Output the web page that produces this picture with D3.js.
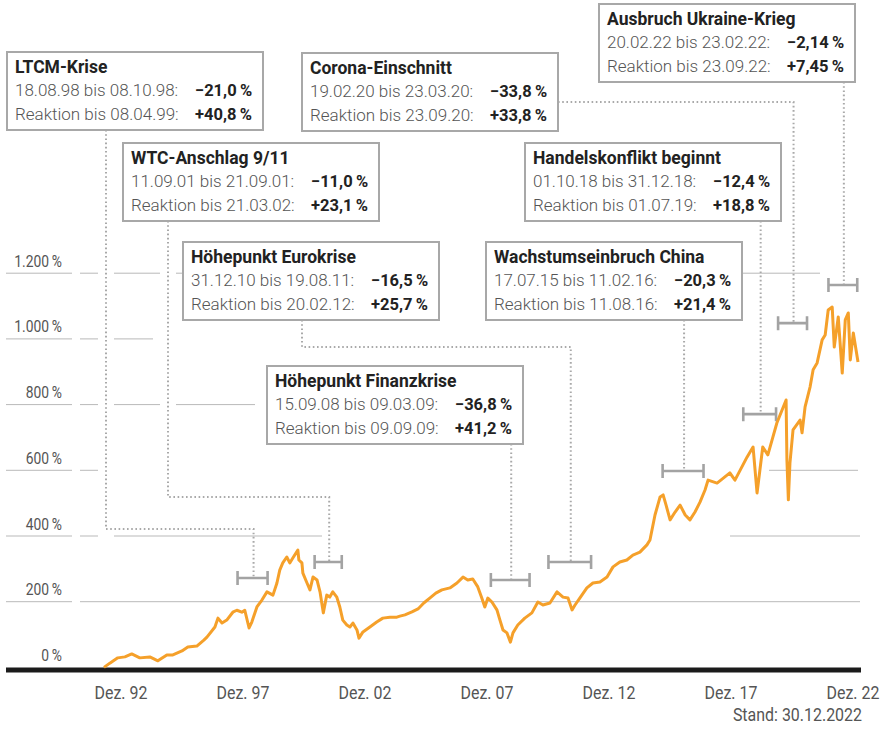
<!DOCTYPE html>
<html>
<head>
<meta charset="utf-8">
<script src="https://cdn.jsdelivr.net/npm/d3@7"></script>
<style>
  body { margin: 0; background: #fff; }
  svg { display: block; }
</style>
</head>
<body>
<div id="chart"></div>
<script>
// Kursverlauf (Veränderung in %, seit Ende 1992)
const seriesDates = [
  "1992-12-30","1993-03-25","1993-07-18","1993-10-30","1994-02-06","1994-06-03","1994-10-27",
  "1995-02-21","1995-07-01","1995-09-27","1996-02-06","1996-05-01","1996-09-09","1996-12-20",
  "1997-02-03","1997-05-30","1997-07-13","1997-09-10","1997-11-18","1998-02-14","1998-04-13",
  "1998-06-25","1998-08-07","1998-10-08","1998-11-17","1999-01-30","1999-04-13","1999-06-25",
  "1999-09-20","1999-11-17","1999-12-28","2000-02-10","2000-04-08","2000-05-22","2000-07-05",
  "2000-09-16","2000-10-01","2000-11-14","2000-11-28","2001-01-27","2001-03-11","2001-04-24",
  "2001-06-22","2001-08-04","2001-09-21","2001-11-10","2001-12-24","2002-02-06","2002-04-05",
  "2002-05-19","2002-07-01","2002-08-29","2002-10-12","2002-11-25","2003-01-23","2003-02-21",
  "2003-04-20","2003-07-30","2003-11-06","2004-02-03","2004-05-15","2004-08-25","2004-10-08",
  "2004-12-20","2005-04-01","2005-06-28","2005-09-20","2005-12-16","2006-03-14","2006-06-10",
  "2006-10-05","2007-01-15","2007-04-13","2007-06-21","2007-09-02","2007-11-14","2008-01-11",
  "2008-02-24","2008-04-08","2008-06-06","2008-08-18","2008-10-01","2008-11-14","2009-01-11",
  "2009-03-02","2009-04-08","2009-06-17","2009-09-27","2010-01-08","2010-04-05","2010-06-17",
  "2010-09-27","2011-01-08","2011-04-05","2011-06-17","2011-08-15","2011-09-27","2011-12-05",
  "2012-03-17","2012-06-13","2012-09-23","2013-01-04","2013-04-01","2013-07-09","2013-10-19",
  "2014-01-15","2014-04-27","2014-08-07","2014-09-20","2014-12-02","2015-02-14","2015-03-30",
  "2015-05-12","2015-07-09","2015-09-20","2015-12-02","2016-02-14","2016-04-23","2016-07-05",
  "2016-09-16","2016-11-28","2017-01-11","2017-05-22","2017-11-24","2018-02-06","2018-07-31",
  "2018-10-27","2018-12-24","2019-03-17","2019-05-30","2019-08-11","2019-10-08","2020-02-19",
  "2020-03-02","2020-03-23","2020-04-15","2020-05-30","2020-09-09","2020-10-08","2020-11-21",
  "2021-02-02","2021-03-18","2021-05-15","2021-07-27","2021-09-09","2021-10-23","2021-12-20",
  "2022-01-19","2022-03-18","2022-05-15","2022-06-28","2022-08-11","2022-09-09","2022-10-23",
  "2022-12-30"
];
const seriesValues = [
  0, 13, 29, 32, 41, 29, 32,
  20, 38, 38, 50, 62, 65, 83,
  92, 123, 150, 135, 144, 168, 174,
  168, 174, 120, 138, 184, 205, 230,
  220, 257, 296, 318, 336, 318, 333,
  357, 327, 318, 287, 257, 236, 275,
  266, 230, 166, 220, 214, 230, 214,
  184, 144, 129, 123, 135, 114, 89,
  108, 123, 138, 150, 153, 153, 156,
  160, 169, 178, 196, 211, 226, 236,
  242, 257, 275, 266, 269, 245, 211,
  184, 211, 199, 175, 144, 114, 105,
  77, 105, 129, 150, 166, 199, 190,
  196, 230, 214, 211, 175, 190, 211,
  242, 257, 260, 275, 306, 321, 327,
  342, 351, 373, 388, 464, 519, 525,
  494, 449, 473, 494, 464, 449, 473,
  503, 540, 570, 561, 592, 570, 640,
  671, 531, 671, 647, 701, 744, 814,
  632, 510, 622, 723, 753, 714, 793,
  854, 906, 927, 997, 1012, 1088, 1097,
  975, 1067, 896, 1058, 1079, 936, 1018,
  930
];

const yTicks = [0, 200, 400, 600, 800, 1000, 1200];
const xTickLabels = ["Dez. 92", "Dez. 97", "Dez. 02", "Dez. 07", "Dez. 12", "Dez. 17", "Dez. 22"];
const standLabel = "Stand: 30.12.2022";

// Krisen: Beginn, Tiefpunkt, Ende der Reaktion, Verlust, Erholung
const eventTitles = [
  "LTCM-Krise", "WTC-Anschlag 9/11", "Höhepunkt Eurokrise", "Höhepunkt Finanzkrise",
  "Wachstumseinbruch China", "Corona-Einschnitt", "Handelskonflikt beginnt", "Ausbruch Ukraine-Krieg"
];
const eventStart = ["1998-08-18", "2001-09-11", "2010-12-31", "2008-09-15", "2015-07-17", "2020-02-19", "2018-10-01", "2022-02-20"];
const eventLow = ["1998-10-08", "2001-09-21", "2011-08-19", "2009-03-09", "2016-02-11", "2020-03-23", "2018-12-31", "2022-02-23"];
const eventReaction = ["1999-04-08", "2002-03-21", "2012-02-20", "2009-09-09", "2016-08-11", "2020-09-23", "2019-07-01", "2022-09-23"];
const eventDrop = [-21.0, -11.0, -16.5, -36.8, -20.3, -33.8, -12.4, -2.14];
const eventGain = [40.8, 23.1, 25.7, 41.2, 21.4, 33.8, 18.8, 7.45];
const eventDigits = [1, 1, 1, 1, 1, 1, 1, 2];

// Platzierung der Kästen (Pixel) und Höhe der Klammern (in %)
const calloutLayout = [
  { box: [7, 52], from: "bottom", off: 99, elbow: 529, level: 272 },
  { box: [123, 143], from: "bottom", off: 45, elbow: 497, level: 321 },
  { box: [183, 242], from: "bottom", off: 119, elbow: 347, level: 321 },
  { box: [267, 366], from: "bottom", level: 266 },
  { box: [486, 242], from: "bottom", level: 598 },
  { box: [302, 53], from: "right", off: 49, level: 1048 },
  { box: [525, 143], from: "bottom", level: 771 },
  { box: [599, 4], from: "bottom", level: 1164 }
];

// sichtbare Stücke der Hilfslinien (Pixel)
const gridSegments = {
  0: [],
  200: [[6, 72], [80, 860]],
  400: [[6, 72], [80, 98], [114, 322], [730, 860]],
  600: [[6, 72], [80, 98], [769, 858]],
  800: [[6, 72], [80, 98], [114, 160], [176, 255]],
  1000: [[6, 72], [80, 98], [114, 153]],
  1200: [[6, 72], [80, 98], [114, 160], [176, 183], [742, 820]]
};

const width = 882, height = 731;
const boxW = 256, boxH = 78;
const parse = d3.timeParse("%Y-%m-%d");
const fmtDate = d3.timeFormat("%d.%m.%y");
const fmtPct = (v, dg) => (v < 0 ? "\u2212" : "+") + Math.abs(v).toFixed(dg).replace(".", ",") + "\u2009%";
const fmtTick = (v) => d3.format(",")(v).replace(/,/g, ".") + "\u2009%";

const data = seriesDates.map((d, i) => ({ date: parse(d), value: seriesValues[i] }));

const x = d3.scaleTime()
  .domain([parse("1992-12-30"), parse("2022-12-30")])
  .range([104, 858]);
const y = d3.scaleLinear().domain([0, 1200]).range([667.4, 273.2]);
const xLab = d3.scalePoint().domain(xTickLabels).range([121, 853]);

const svg = d3.select("#chart").append("svg")
  .attr("width", width).attr("height", height)
  .attr("viewBox", `0 0 ${width} ${height}`);

const axisFont = "Roboto, 'Open Sans', sans-serif";
const boxFont = "Roboto, 'Open Sans', sans-serif";
const narrow = 0.84; // schmal laufende Achsenschrift

// Hilfslinien
const grid = svg.append("g");
yTicks.forEach((t) => {
  (gridSegments[t] || []).forEach(([a, b]) => {
    grid.append("line")
      .attr("x1", a).attr("x2", b)
      .attr("y1", y(t)).attr("y2", y(t))
      .attr("stroke", "#b9b9b9").attr("stroke-width", 1);
  });
});

grid.selectAll("text.ytick")
  .data(yTicks)
  .join("text")
  .attr("class", "ytick")
  .attr("transform", (d) => `translate(62,${y(d) - 6.5}) scale(${narrow},1)`)
  .attr("text-anchor", "end")
  .style("font-family", axisFont)
  .style("font-size", "16.5px")
  .style("fill", "#555")
  .text(fmtTick);

// Klammern + Führungslinien
const events = eventTitles.map((t, i) => {
  const s = x(parse(eventStart[i]));
  const r = x(parse(eventReaction[i]));
  return {
    title: t,
    line1: `${fmtDate(parse(eventStart[i]))} bis ${fmtDate(parse(eventLow[i]))}:`,
    line2: `Reaktion bis ${fmtDate(parse(eventReaction[i]))}:`,
    drop: fmtPct(eventDrop[i], eventDigits[i]),
    gain: fmtPct(eventGain[i], eventDigits[i]),
    x0: s - 8,
    x1: r + 6,
    cx: (s + r) / 2,
    by: y(calloutLayout[i].level),
    lay: calloutLayout[i]
  };
});

const leaders = svg.append("g");
events.forEach((e) => {
  const [bx, by] = e.lay.box;
  let pts;
  if (e.lay.from === "right") {
    const yy = by + e.lay.off;
    pts = [[bx + boxW, yy], [e.cx, yy], [e.cx, e.by]];
  } else if (e.lay.elbow) {
    const ax = bx + e.lay.off;
    pts = [[ax, by + boxH], [ax, e.lay.elbow], [e.cx, e.lay.elbow], [e.cx, e.by]];
  } else {
    pts = [[e.cx, by + boxH], [e.cx, e.by]];
  }
  leaders.append("path")
    .attr("d", d3.line()(pts))
    .attr("fill", "none")
    .attr("stroke", "#a9a9a9")
    .attr("stroke-width", 2)
    .attr("stroke-dasharray", "1.6 2.6");
});

const brackets = svg.append("g")
  .attr("stroke", "#a3a3a3")
  .attr("stroke-width", 2.6)
  .attr("fill", "none");
events.forEach((e) => {
  brackets.append("path")
    .attr("d", `M${e.x0},${e.by - 7}V${e.by + 7}M${e.x0},${e.by}H${e.x1}M${e.x1},${e.by - 7}V${e.by + 7}`);
});

// Nulllinie
svg.append("line")
  .attr("x1", 6).attr("x2", 861)
  .attr("y1", y(0) + 2.6).attr("y2", y(0) + 2.6)
  .attr("stroke", "#1b1b1b").attr("stroke-width", 5.2);

// Kurs
svg.append("path")
  .datum(data)
  .attr("fill", "none")
  .attr("stroke", "#f5a02a")
  .attr("stroke-width", 3)
  .attr("stroke-linejoin", "round")
  .attr("d", d3.line().x((d) => x(d.date)).y((d) => y(d.value)));

// x-Beschriftung
svg.append("g").selectAll("text")
  .data(xTickLabels)
  .join("text")
  .attr("transform", (d) => `translate(${xLab(d)},699) scale(${narrow},1)`)
  .attr("text-anchor", "middle")
  .style("font-family", axisFont)
  .style("font-size", "19px")
  .style("fill", "#555")
  .text((d) => d);

svg.append("text")
  .attr("transform", `translate(862,721) scale(${narrow},1)`)
  .attr("text-anchor", "end")
  .style("font-family", axisFont)
  .style("font-size", "19px")
  .style("fill", "#555")
  .text(standLabel);

// Kästen
const boxes = svg.append("g").selectAll("g")
  .data(events)
  .join("g")
  .attr("transform", (d) => `translate(${d.lay.box[0]},${d.lay.box[1]})`);

boxes.append("rect")
  .attr("x", 0).attr("y", 0)
  .attr("width", boxW).attr("height", boxH)
  .attr("fill", "#fff")
  .attr("stroke", "#a8a8a8")
  .attr("stroke-width", 2);

boxes.append("text")
  .attr("x", 8).attr("y", 21)
  .style("font-family", boxFont)
  .style("font-size", "17.5px")
  .style("font-weight", 700)
  .style("fill", "#222")
  .text((d) => d.title);

[["line1", "drop", 44], ["line2", "gain", 68]].forEach(([lk, vk, ty]) => {
  boxes.append("text")
    .attr("x", 8).attr("y", ty)
    .style("font-family", boxFont)
    .style("font-size", "17px")
    .style("font-weight", 300)
    .style("fill", "#555")
    .text((d) => d[lk]);
  boxes.append("text")
    .attr("x", 188).attr("y", ty)
    .style("font-family", boxFont)
    .style("font-size", "16.5px")
    .style("font-weight", 700)
    .style("fill", "#222")
    .text((d) => d[vk]);
});
</script>
</body>
</html>
